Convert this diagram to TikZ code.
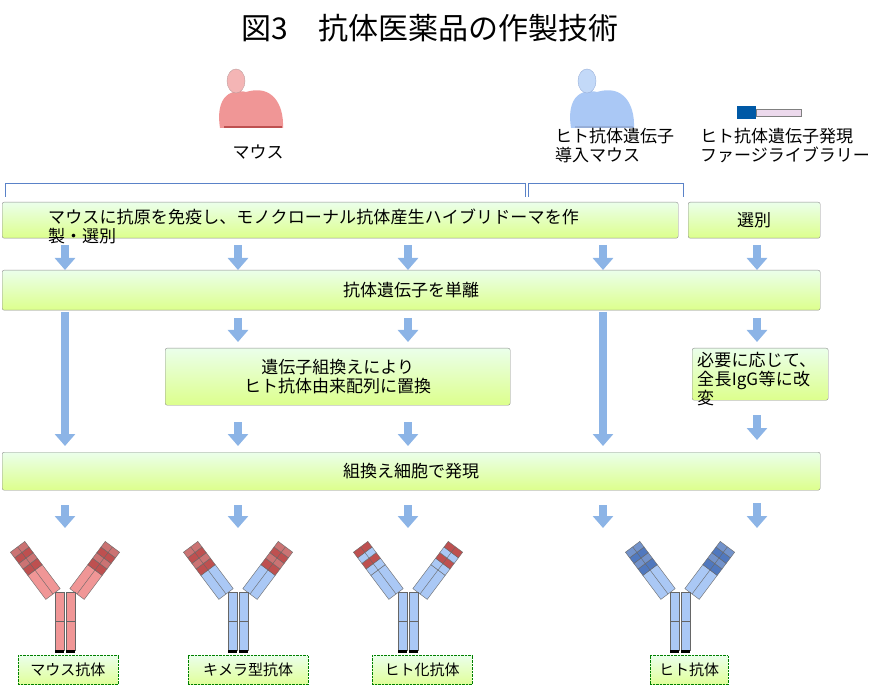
\documentclass[tikz,border=0pt]{standalone}
\usepackage{fontspec}
\setmainfont{Noto Sans CJK JP}
\XeTeXlinebreaklocale "ja"
\XeTeXlinebreakskip=0pt plus 1pt
\usetikzlibrary{calc,arrows.meta,positioning}
\definecolor{abred}{RGB}{240,150,150}
\definecolor{tipred}{RGB}{190,80,80}
\definecolor{abblue}{RGB}{170,200,245}
\definecolor{tipblue}{RGB}{80,120,190}
\definecolor{arrblue}{RGB}{140,180,230}
\definecolor{brblue}{RGB}{90,130,200}
% one band of an arm: base, direction, from t0 to t1, colour
\newcommand\armband[7]{%
  \filldraw[draw=black!60,fill=#7,line width=0.4pt]
    ({#1+#3*#5-(#4)*9},{594+#4*#5+(#3)*9}) -- ({#1+#3*#6-(#4)*9},{594+#4*#6+(#3)*9})
    -- ({#1+#3*#6},{594+#4*#6}) -- ({#1+#3*#5},{594+#4*#5}) -- cycle
    ({#1+#3*#5},{594+#4*#5}) -- ({#1+#3*#6},{594+#4*#6})
    -- ({#1+#3*#6+(#4)*9},{594+#4*#6-(#3)*9}) -- ({#1+#3*#5+(#4)*9},{594+#4*#5-(#3)*9}) -- cycle;}
% antibody: centre x, five arm bands (base to tip), stem colour
\newcommand\antibody[7]{%
  \foreach \bx/\ux in {{#1-12}/-0.6,{#1+12}/0.6}{
    \armband{\bx}{0}{\ux}{-0.8}{0}{30}{#2}
    \armband{\bx}{0}{\ux}{-0.8}{30}{38}{#3}
    \armband{\bx}{0}{\ux}{-0.8}{38}{45}{#4}
    \armband{\bx}{0}{\ux}{-0.8}{45}{52}{#5}
    \armband{\bx}{0}{\ux}{-0.8}{52}{59}{#6}
  }
  \foreach \sx in {-10,1}{
    \filldraw[draw=black!60,fill=#7] ({#1+\sx},592) rectangle ({#1+\sx+9},621);
    \filldraw[draw=black!60,fill=#7] ({#1+\sx},621) rectangle ({#1+\sx+9},650);
    \fill[black] ({#1+\sx},650) rectangle ({#1+\sx+9},653);
  }}
\begin{document}
\begin{tikzpicture}[x=1pt,y=-1pt,
  box/.style={draw=black!45,top color=green!8,bottom color=green!30!yellow!45,
    rounded corners=2pt,inner sep=2pt,font=\fontsize{17}{19}\selectfont},
  tag/.style={draw=green!50!black,densely dotted,top color=green!8,bottom color=green!30!yellow!40,
    inner sep=2pt,font=\fontsize{15}{17}\selectfont},
  lbl/.style={font=\fontsize{17}{19}\selectfont,align=left,inner sep=0pt},
  barrow/.style={draw=arrblue,line width=8pt,-{Triangle[width=20pt,length=12pt]}}]
  \useasboundingbox (0,0) rectangle (871,687);
  \node[font=\fontsize{30}{32}\selectfont] (title) at (430,28) {図3　抗体医薬品の作製技術};

  % mice and phage
  \fill[abred] (220,128) .. controls (214,88) and (240,90) .. (246,92)
    .. controls (272,84) and (284,104) .. (283,128) -- cycle;
  \filldraw[draw=abred!60!black!60,fill=abred!70] (236,81) ellipse (9 and 12);
  \draw[tipred,line width=1.5pt] (224,127) -- (282,127);
  \fill[abblue] (571,128) .. controls (565,88) and (591,90) .. (597,92)
    .. controls (623,84) and (635,104) .. (634,128) -- cycle;
  \filldraw[draw=tipblue!60,fill=abblue!70] (587,81) ellipse (9 and 12);
  \draw[tipblue!60,line width=1.5pt] (575,127) -- (633,127);
  \fill[teal!70!blue] (737,106) rectangle (756,119);
  \filldraw[draw=gray,fill=violet!15] (756,109) rectangle (801,116);
  \node[lbl] (mlbl) at (258,152) {マウス};
  \node[lbl,anchor=north west] (hlbl) at (555,128) {ヒト抗体遺伝子\\導入マウス};
  \node[lbl,anchor=north west] (plbl) at (700,128) {ヒト抗体遺伝子発現\\ファージライブラリー};

  % brackets
  \draw[brblue] (5,197) -- (5,183) -- (525,183) -- (525,197);
  \draw[brblue] (528,197) -- (528,183) -- (683,183) -- (683,197);

  % boxes
  \node[box,minimum width=676,minimum height=36,anchor=north west] (immune) at (2,202) {};
  \node[lbl,anchor=north west,text width=535] (immtxt) at (48,209) {マウスに抗原を免疫し、モノクローナル抗体産生ハイブリドーマを作製・選別};
  \node[box,minimum width=132,minimum height=36,anchor=north west] (select) at (688,202) {選別};
  \node[box,minimum width=818,minimum height=40,anchor=north west] (isolate) at (2,270) {抗体遺伝子を単離};
  \node[box,minimum width=345,minimum height=57,anchor=north west,align=center] (recomb) at (165,348) {遺伝子組換えにより\\ヒト抗体由来配列に置換};
  \node[box,minimum width=136,minimum height=52,anchor=north west] (modify) at (692,348) {};
  \node[lbl,anchor=north west,text width=125] (modtxt) at (697,352) {必要に応じて、全長IgG等に改変};
  \node[box,minimum width=818,minimum height=38,anchor=north west] (express) at (2,452) {組換え細胞で発現};

  % arrows
  \foreach \x/\a/\b [count=\i] in {65/245/270,238/245/270,408/245/270,603/245/270,757/245/270,
      238/318/342,408/318/342,757/318/342,65/312/446,603/312/446,
      238/422/446,408/422/446,757/415/440,
      65/505/528,238/505/528,408/505/528,603/505/528,757/503/528}{
    \coordinate (s\i) at (\x,\a);
    \coordinate (e\i) at (\x,\b);
    \draw[barrow] (s\i) -- (e\i);
  }

  % antibodies
  \antibody{65}{abred}{tipred}{tipred!80}{tipred}{tipred!80}{abred}
  \antibody{238}{abblue}{tipred}{tipred!80}{tipred}{tipred!80}{abblue}
  \antibody{408}{abblue}{abblue}{tipred}{abblue}{tipred}{abblue}
  \antibody{680}{abblue}{tipblue}{tipblue!80}{tipblue}{tipblue!80}{abblue}

  % labels
  \node[tag,minimum width=100,minimum height=29] (t1) at (68,670) {マウス抗体};
  \node[tag,minimum width=120,minimum height=29] (t2) at (248,670) {キメラ型抗体};
  \node[tag,minimum width=100,minimum height=29] (t3) at (422,670) {ヒト化抗体};
  \node[tag,minimum width=78,minimum height=29] (t4) at (689,670) {ヒト抗体};
\end{tikzpicture}
\end{document}
